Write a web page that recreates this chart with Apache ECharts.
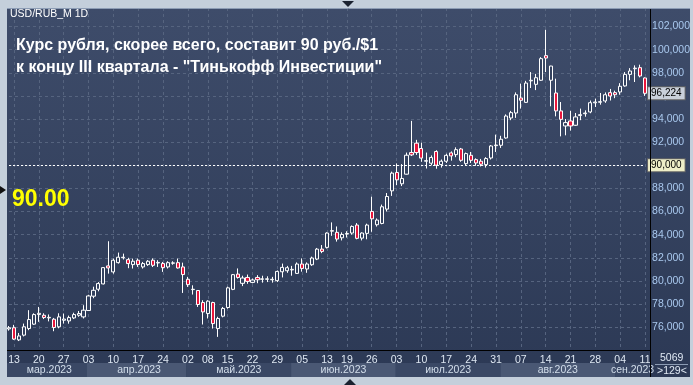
<!DOCTYPE html>
<html>
<head>
<meta charset="utf-8">
<script src="https://cdn.jsdelivr.net/npm/echarts@6/dist/echarts.min.js"></script>
<style>
  html, body { margin: 0; padding: 0; background: #c4cfdb; }
  #chart { width: 693px; height: 385px; }
</style>
</head>
<body>
<div id="chart"></div>
<script>
// trading days per month (2023)
const marDays = [10, 13, 14, 15, 16, 17, 20, 21, 22, 23, 24, 27, 28, 29, 30, 31];
const aprDays = [3, 4, 5, 6, 7, 10, 11, 12, 13, 14, 17, 18, 19, 20, 21, 24, 25, 26, 27, 28];
const mayDays = [2, 3, 4, 5, 8, 10, 11, 12, 15, 16, 17, 18, 19, 22, 23, 24, 25, 26, 29, 30, 31];
const junDays = [1, 2, 5, 6, 7, 8, 9, 13, 14, 15, 16, 19, 20, 21, 22, 23, 26, 27, 28, 29, 30];
const julDays = [3, 4, 5, 6, 7, 10, 11, 12, 13, 14, 17, 18, 19, 20, 21, 24, 25, 26, 27, 28, 31];
const augDays = [1, 2, 3, 4, 7, 8, 9, 10, 11, 14, 15, 16, 17, 18, 21, 22, 23, 24, 25, 28, 29, 30, 31];
const sepDays = [1, 4, 5, 6, 7, 8, 11];

const monthNums = [3, 4, 5, 6, 7, 8, 9];
const monthNames = ["мар.2023", "апр.2023", "май.2023", "июн.2023", "июл.2023", "авг.2023", "сен.2023"];

// [open, close, low, high]
const marBars = [
  [75.85, 75.95, 75.7, 76.1], [75.95, 74.97, 74.9, 76.2], [74.9, 75.24, 74.8, 75.5], [75.31, 76.03, 75.2, 76.31],
  [75.88, 76.66, 75.74, 77.47], [76.26, 77.09, 76.2, 77.2], [77.1, 77.2, 76.46, 77.75], [77.03, 76.83, 76.7, 77.2],
  [76.8, 76.85, 76.5, 77.1], [76.69, 75.97, 75.65, 76.8], [76.03, 76.89, 75.9, 77.2], [76.6, 76.7, 76.31, 77.18],
  [76.54, 76.83, 76.3, 77.0], [76.8, 77.09, 76.7, 77.25], [77.03, 77.18, 76.9, 77.4], [76.89, 77.47, 76.75, 77.9]
];
const aprBars = [
  [77.44, 78.7, 77.4, 78.8], [78.68, 79.19, 78.5, 79.5], [79.28, 79.77, 79.1, 79.9], [79.74, 81.15, 79.7, 81.2],
  [81.3, 81.12, 80.63, 83.43], [80.78, 81.79, 80.63, 81.93], [81.58, 82.05, 81.5, 82.45], [82.0, 82.05, 81.85, 82.36],
  [81.84, 81.5, 81.1, 82.0], [81.41, 81.7, 81.07, 81.93], [81.79, 81.41, 81.21, 81.93], [81.21, 81.5, 81.07, 81.64],
  [81.41, 81.7, 81.3, 81.8], [81.79, 81.35, 81.2, 81.95], [81.55, 81.6, 81.21, 81.79], [81.5, 81.15, 80.78, 81.64],
  [81.21, 81.58, 81.07, 81.7], [81.53, 81.56, 81.4, 81.7], [81.58, 81.12, 81.07, 81.93], [81.21, 80.55, 78.96, 81.58]
];
const mayBars = [
  [80.14, 79.68, 79.48, 80.35], [79.25, 79.28, 78.82, 79.62], [79.17, 77.96, 77.75, 79.2], [78.13, 77.32, 76.23, 78.33],
  [77.18, 78.25, 76.75, 78.33], [78.13, 76.31, 75.88, 78.2], [75.88, 76.75, 75.16, 76.9], [76.95, 77.62, 76.85, 77.75],
  [77.7, 79.4, 77.6, 79.5], [79.27, 80.54, 79.2, 80.6], [80.59, 80.3, 80.2, 81.08], [79.79, 80.25, 79.55, 80.45],
  [80.3, 79.96, 79.75, 80.55], [79.87, 80.08, 79.8, 80.2], [80.3, 80.1, 79.8, 80.5], [80.14, 80.18, 79.85, 80.45],
  [80.14, 80.18, 79.9, 80.4], [80.1, 80.14, 79.85, 80.35], [80.02, 80.82, 79.9, 80.9], [80.79, 81.17, 80.3, 81.5],
  [80.88, 81.14, 80.7, 81.3]
];
const junBars = [
  [80.95, 81.0, 80.45, 81.3], [80.65, 81.46, 80.6, 81.6], [81.46, 81.08, 80.8, 81.95], [81.03, 81.46, 80.7, 81.6],
  [81.4, 81.98, 81.3, 82.1], [81.89, 82.75, 81.8, 82.85], [82.75, 82.55, 82.4, 83.1], [82.9, 84.14, 82.8, 84.2],
  [84.3, 84.35, 83.9, 85.06], [84.2, 83.62, 83.4, 84.71], [83.73, 84.02, 83.5, 84.2], [84.05, 84.1, 83.75, 84.3],
  [84.14, 84.71, 84.0, 84.8], [84.83, 83.68, 83.6, 85.0], [83.7, 84.14, 83.5, 84.2], [84.11, 84.83, 83.6, 84.95],
  [86.01, 85.37, 84.25, 87.28], [84.86, 85.26, 84.7, 85.4], [84.97, 86.41, 84.9, 86.6], [86.21, 87.3, 86.0, 87.6],
  [87.79, 89.32, 87.35, 89.45]
];
const julBars = [
  [89.38, 88.74, 88.28, 90.16], [88.4, 88.86, 88.2, 90.1], [89.23, 90.87, 89.2, 91.1], [91.1, 90.9, 90.8, 93.84],
  [91.91, 91.1, 90.9, 92.2], [91.45, 90.62, 90.3, 91.95], [90.35, 90.4, 89.72, 91.1], [90.18, 90.67, 90.0, 90.85],
  [91.19, 90.01, 89.7, 91.3], [90.06, 90.35, 89.8, 90.5], [90.35, 90.86, 90.2, 91.0], [91.07, 90.81, 90.4, 91.2],
  [90.92, 91.35, 90.7, 91.55], [91.41, 90.43, 90.3, 91.5], [90.14, 91.01, 90.0, 91.1], [90.86, 90.43, 90.2, 91.15],
  [90.49, 90.2, 89.95, 90.6], [90.35, 90.09, 89.9, 90.55], [90.06, 90.58, 89.8, 90.7], [90.63, 91.67, 90.5, 91.75],
  [91.7, 91.75, 91.15, 92.65]
];
const augBars = [
  [91.73, 92.25, 91.5, 92.55], [92.36, 94.26, 92.3, 94.4], [94.09, 94.55, 93.9, 94.7], [94.52, 96.1, 94.1, 96.3],
  [95.82, 95.62, 94.9, 97.06], [95.44, 97.11, 95.4, 97.3], [97.3, 97.35, 96.68, 98.06], [97.0, 97.57, 96.5, 97.9],
  [97.35, 99.22, 97.3, 99.35], [99.48, 99.27, 98.06, 101.72], [97.35, 98.58, 95.1, 98.6], [96.25, 94.7, 94.23, 97.49],
  [94.7, 93.97, 92.5, 95.47], [93.4, 93.69, 92.59, 94.0], [93.83, 93.4, 93.0, 94.7], [93.46, 94.18, 93.4, 94.52],
  [94.3, 94.38, 93.9, 94.9], [94.46, 94.52, 94.2, 94.75], [94.61, 95.41, 94.5, 95.6], [95.4, 95.47, 95.04, 95.76],
  [95.45, 95.5, 95.24, 96.25], [95.56, 96.1, 95.4, 96.3], [96.28, 95.99, 95.6, 96.6]
];
const sepBars = [
  [96.28, 96.1, 95.8, 96.45], [96.34, 96.83, 96.1, 97.1], [96.86, 97.86, 96.8, 98.06], [97.86, 98.15, 97.35, 98.4],
  [98.35, 98.4, 97.2, 98.64], [98.44, 97.72, 97.6, 98.7], [97.55, 96.224, 96.0, 97.6]
];

const levelLine = 90;
const lastPrice = 96.224;

const monthDays = [marDays, aprDays, mayDays, junDays, julDays, augDays, sepDays];
const monthBars = [marBars, aprBars, mayBars, junBars, julBars, augBars, sepBars];

const pad = (n) => (n < 10 ? "0" : "") + n;
const fmt = (v) => v.toFixed(3).replace(".", ",");

const dates = [];
const bars = [];
const monthStart = [];
const monthMid = [];
monthDays.forEach((days, m) => {
  monthStart.push(dates.length);
  monthMid.push(dates.length + Math.round((days.length - 1) / 2));
  days.forEach((d, k) => {
    dates.push("2023-" + pad(monthNums[m]) + "-" + pad(d));
    bars.push(monthBars[m][k]);
  });
});
const weekStart = dates.map((s, i) =>
  i > 0 && new Date(s).getUTCDay() <= new Date(dates[i - 1]).getUTCDay()
);

const font = "Liberation Sans";
const gridColor = "#56647f";

const priceTag = (value, bg) => ({
  position: "end", distance: 3, formatter: () => fmt(value),
  color: "#000", backgroundColor: bg, borderColor: "#666", borderWidth: 1,
  padding: [1, 3, 1, 3], fontSize: 10, fontFamily: font
});

const chart = echarts.init(document.getElementById("chart"));
chart.setOption({
  animation: false,
  backgroundColor: "#c4cfdb",
  graphic: [
    {
      type: "rect", z: -100, silent: true,
      shape: { x: 7, y: 8, width: 683, height: 369 },
      style: {
        fill: {
          type: "linear", x: 0, y: 0, x2: 0, y2: 1,
          colorStops: [{ offset: 0, color: "#3e4c6a" }, { offset: 1, color: "#2c3955" }]
        }
      }
    },
    { type: "line", z: 100, shape: { x1: 650.5, y1: 8, x2: 650.5, y2: 377 }, style: { stroke: "#000", lineWidth: 1 } },
    { type: "line", z: 100, shape: { x1: 7, y1: 350.5, x2: 650, y2: 350.5 }, style: { stroke: "#000", lineWidth: 1 } },
    { type: "line", z: 100, shape: { x1: 7, y1: 8.5, x2: 690, y2: 8.5 }, style: { stroke: "#8c9cb4", lineWidth: 1 } },
    { type: "polygon", z: 100, shape: { points: [[0, 186], [6, 190], [0, 194]] }, style: { fill: "#111" } },
    { type: "polygon", z: 100, shape: { points: [[342, 1], [354, 1], [348, 7]] }, style: { fill: "#1a2230" } },
    { type: "polygon", z: 100, shape: { points: [[344, 385], [356, 385], [350, 379]] }, style: { fill: "#1a2230" } },
    {
      type: "text", z: 100, left: 10, top: 9,
      style: { text: "USD/RUB_M 1D", fill: "#fff", font: "10.5px " + font }
    },
    {
      type: "text", z: 100, left: 16, top: 35,
      style: {
        text: "Курс рубля, скорее всего, составит 90 руб./$1\nк концу III квартала - \"Тинькофф Инвестиции\"",
        fill: "#fff", font: "bold 16px " + font, lineHeight: 22
      }
    },
    {
      type: "text", z: 100, left: 12, top: 188,
      style: { text: "90.00", fill: "#ffff00", font: "bold 23px " + font }
    },
    {
      type: "text", z: 100, left: 660, top: 353,
      style: { text: "5069", fill: "#dfe8f3", font: "10.5px " + font }
    },
    { type: "line", z: 100, shape: { x1: 655, y1: 364.5, x2: 688, y2: 364.5 }, style: { stroke: "#8c9cb4", lineWidth: 1 } },
    {
      type: "text", z: 100, left: 657, top: 366,
      style: { text: ">129<", fill: "#dfe8f3", font: "10.5px " + font }
    }
  ],
  grid: [
    { left: 9, top: 8, width: 637.4, height: 342.3 },
    { left: 7, top: 363, width: 643, height: 14 }
  ],
  xAxis: [
    {
      type: "category", gridIndex: 0, data: dates, boundaryGap: false,
      axisLine: { show: false }, axisTick: { show: false },
      axisLabel: {
        interval: (i) => weekStart[i],
        formatter: (v) => v.slice(8),
        color: "#dfe8f3", fontSize: 10.5, fontFamily: font, margin: 4
      },
      splitLine: { show: true, interval: (i) => weekStart[i], lineStyle: { color: gridColor, type: [3, 3] } }
    },
    {
      type: "category", gridIndex: 1, data: dates, boundaryGap: true,
      axisLine: { show: false }, axisTick: { show: false },
      axisLabel: {
        inside: true, margin: 1,
        interval: (i) => monthMid.indexOf(i) >= 0,
        formatter: (v, i) => monthNames[monthMid.indexOf(i)],
        color: "#d3deeb", fontSize: 10.5, fontFamily: font
      },
      splitArea: {
        show: true, interval: (i) => monthStart.indexOf(i) >= 0,
        areaStyle: { color: ["#3a4865", "#4a5874"] }
      }
    }
  ],
  yAxis: [
    {
      type: "value", gridIndex: 0, position: "right", offset: 4,
      min: 74, max: 103.6, interval: 2,
      axisLine: { show: false }, axisTick: { show: false },
      axisLabel: {
        formatter: fmt, color: "#a9c8ee", fontSize: 10.5, fontFamily: font, margin: 3,
        showMinLabel: false, showMaxLabel: false
      },
      splitLine: { lineStyle: { color: gridColor, type: [3, 3] } }
    },
    { type: "value", gridIndex: 1, show: false }
  ],
  series: [
    {
      type: "candlestick", xAxisIndex: 0, yAxisIndex: 0, data: bars,
      barWidth: 3.6, clip: false,
      itemStyle: {
        color: "#34425f", color0: "#e8163c",
        borderColor: "#ffffff", borderColor0: "#ffffff", borderWidth: 1
      },
      markLine: {
        symbol: "none", silent: true, animation: false,
        data: [
          {
            yAxis: levelLine,
            lineStyle: { color: "#ffffff", type: [2, 2], width: 1 },
            label: priceTag(levelLine, "#eeeec8")
          },
          {
            yAxis: lastPrice,
            lineStyle: { color: "rgba(0,0,0,0)", width: 1 },
            label: priceTag(lastPrice, "#c9d0da")
          }
        ]
      }
    }
  ]
});
</script>
</body>
</html>
